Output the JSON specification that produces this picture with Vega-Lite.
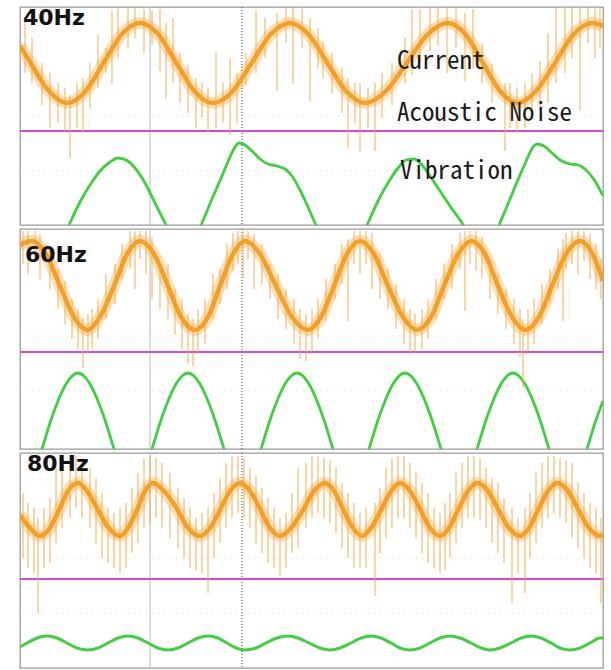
{
  "$schema": "https://vega.github.io/schema/vega-lite/v6.json",
  "background": "white",
  "padding": {"left": 14, "top": 5, "right": 2, "bottom": 2},
  "spacing": 4,
  "bounds": "flush",
  "config": {"view": {"stroke": "#9a9a9a", "strokeWidth": 1.3}},
  "datasets": {
    "grid": [{"t": 130}],
    "center": [{"t": 222}],
    "cur1": [{"t":0,"v":177},{"t":10,"v":161},{"t":28,"v":133},{"t":47,"v":120},{"t":65,"v":131},{"t":84,"v":161},{"t":102,"v":189},{"t":120,"v":200},{"t":138,"v":189},{"t":157,"v":159},{"t":175,"v":131},{"t":193,"v":120},{"t":212,"v":131},{"t":231,"v":159},{"t":251,"v":189},{"t":270,"v":200},{"t":289,"v":188},{"t":308,"v":159},{"t":326,"v":132},{"t":345,"v":120},{"t":366,"v":132},{"t":386,"v":159},{"t":407,"v":188},{"t":428,"v":200},{"t":446,"v":188},{"t":463,"v":160},{"t":480,"v":132},{"t":498,"v":120},{"t":516,"v":132},{"t":535,"v":160},{"t":553,"v":188},{"t":572,"v":200},{"t":583,"v":197}],
    "spk1": [{"t":5,"lo":150,"hi":205},{"t":12,"lo":140,"hi":185},{"t":22,"lo":118,"hi":160},{"t":30,"lo":95,"hi":150},{"t":38,"lo":100,"hi":140},{"t":45,"lo":92,"hi":135},{"t":50,"lo":65,"hi":128},{"t":57,"lo":95,"hi":140},{"t":63,"lo":90,"hi":145},{"t":70,"lo":115,"hi":160},{"t":78,"lo":135,"hi":188},{"t":86,"lo":150,"hi":175},{"t":92,"lo":140,"hi":212},{"t":98,"lo":165,"hi":215},{"t":108,"lo":175,"hi":215},{"t":115,"lo":185,"hi":216},{"t":124,"lo":170,"hi":214},{"t":132,"lo":178,"hi":212},{"t":140,"lo":152,"hi":214},{"t":146,"lo":125,"hi":200},{"t":153,"lo":140,"hi":205},{"t":160,"lo":120,"hi":170},{"t":168,"lo":110,"hi":158},{"t":176,"lo":95,"hi":145},{"t":182,"lo":105,"hi":140},{"t":188,"lo":90,"hi":135},{"t":196,"lo":95,"hi":170},{"t":203,"lo":100,"hi":140},{"t":210,"lo":88,"hi":165},{"t":217,"lo":100,"hi":150},{"t":226,"lo":138,"hi":170},{"t":236,"lo":150,"hi":212},{"t":245,"lo":165,"hi":205},{"t":257,"lo":132,"hi":210},{"t":266,"lo":180,"hi":216},{"t":273,"lo":139,"hi":216},{"t":282,"lo":175,"hi":214},{"t":290,"lo":122,"hi":205},{"t":298,"lo":155,"hi":195},{"t":303,"lo":145,"hi":182},{"t":312,"lo":130,"hi":170},{"t":322,"lo":110,"hi":155},{"t":328,"lo":75,"hi":145},{"t":335,"lo":100,"hi":140},{"t":340,"lo":72,"hi":140},{"t":348,"lo":95,"hi":135},{"t":355,"lo":72,"hi":140},{"t":362,"lo":105,"hi":150},{"t":372,"lo":118,"hi":160},{"t":385,"lo":140,"hi":185},{"t":392,"lo":148,"hi":214},{"t":400,"lo":160,"hi":214},{"t":410,"lo":172,"hi":215},{"t":418,"lo":178,"hi":216},{"t":427,"lo":150,"hi":216},{"t":436,"lo":175,"hi":215},{"t":445,"lo":142,"hi":210},{"t":453,"lo":155,"hi":214},{"t":462,"lo":140,"hi":180},{"t":472,"lo":120,"hi":160},{"t":485,"lo":72,"hi":140},{"t":490,"lo":95,"hi":140},{"t":497,"lo":90,"hi":135},{"t":505,"lo":95,"hi":140},{"t":512,"lo":105,"hi":150},{"t":520,"lo":112,"hi":162},{"t":528,"lo":120,"hi":190},{"t":536,"lo":140,"hi":215},{"t":545,"lo":150,"hi":216},{"t":552,"lo":165,"hi":216},{"t":560,"lo":112,"hi":216},{"t":568,"lo":180,"hi":216},{"t":575,"lo":165,"hi":216},{"t":580,"lo":175,"hi":214}],
    "vib1": [{"t":40,"v":-25},{"t":50,"v":0},{"t":60,"v":21},{"t":70,"v":38},{"t":80,"v":52},{"t":90,"v":61},{"t":98,"v":65},{"t":106,"v":63},{"t":115,"v":55},{"t":125,"v":40},{"t":135,"v":20},{"t":145,"v":0},{"t":155,"v":-22},{"t":172,"v":-22},{"t":182,"v":0},{"t":192,"v":24},{"t":202,"v":47},{"t":210,"v":66},{"t":215,"v":76},{"t":219,"v":80},{"t":225,"v":78},{"t":232,"v":72},{"t":240,"v":64},{"t":248,"v":59},{"t":257,"v":57},{"t":265,"v":54},{"t":272,"v":47},{"t":280,"v":33},{"t":288,"v":16},{"t":295,"v":0},{"t":305,"v":-22},{"t":338,"v":-22},{"t":348,"v":0},{"t":358,"v":22},{"t":368,"v":40},{"t":378,"v":55},{"t":386,"v":63},{"t":394,"v":64},{"t":402,"v":58},{"t":412,"v":44},{"t":422,"v":29},{"t":432,"v":14},{"t":442,"v":0},{"t":452,"v":-22},{"t":470,"v":-22},{"t":480,"v":0},{"t":490,"v":24},{"t":500,"v":48},{"t":508,"v":66},{"t":513,"v":76},{"t":517,"v":79},{"t":524,"v":77},{"t":532,"v":70},{"t":540,"v":63},{"t":550,"v":59},{"t":558,"v":58},{"t":566,"v":53},{"t":575,"v":42},{"t":583,"v":27}],
    "cur2": [{"t":0,"v":204},{"t":12,"v":208},{"t":26,"v":195},{"t":40,"v":163},{"t":54,"v":132},{"t":67,"v":119},{"t":80,"v":132},{"t":94,"v":163},{"t":107,"v":195},{"t":120,"v":208},{"t":134,"v":195},{"t":148,"v":163},{"t":161,"v":132},{"t":175,"v":119},{"t":188,"v":132},{"t":200,"v":163},{"t":213,"v":195},{"t":225,"v":208},{"t":240,"v":195},{"t":256,"v":163},{"t":272,"v":132},{"t":288,"v":119},{"t":301,"v":132},{"t":314,"v":163},{"t":327,"v":195},{"t":340,"v":208},{"t":354,"v":195},{"t":368,"v":163},{"t":383,"v":132},{"t":397,"v":119},{"t":411,"v":132},{"t":424,"v":163},{"t":438,"v":195},{"t":452,"v":208},{"t":465,"v":195},{"t":478,"v":163},{"t":492,"v":132},{"t":505,"v":119},{"t":519,"v":132},{"t":532,"v":163},{"t":546,"v":195},{"t":560,"v":208},{"t":572,"v":196},{"t":583,"v":168}],
    "spk2": [{"t":3,"lo":185,"hi":218},{"t":8,"lo":175,"hi":218},{"t":15,"lo":190,"hi":218},{"t":20,"lo":170,"hi":215},{"t":30,"lo":160,"hi":200},{"t":38,"lo":140,"hi":180},{"t":45,"lo":125,"hi":168},{"t":52,"lo":110,"hi":150},{"t":58,"lo":100,"hi":140},{"t":63,"lo":81,"hi":130},{"t":68,"lo":95,"hi":135},{"t":72,"lo":100,"hi":140},{"t":78,"lo":110,"hi":150},{"t":86,"lo":130,"hi":175},{"t":95,"lo":145,"hi":185},{"t":102,"lo":170,"hi":205},{"t":110,"lo":180,"hi":218},{"t":115,"lo":160,"hi":218},{"t":120,"lo":190,"hi":218},{"t":126,"lo":175,"hi":218},{"t":132,"lo":150,"hi":212},{"t":140,"lo":140,"hi":180},{"t":148,"lo":130,"hi":185},{"t":155,"lo":115,"hi":160},{"t":162,"lo":100,"hi":150},{"t":168,"lo":85,"hi":135},{"t":173,"lo":83,"hi":130},{"t":178,"lo":95,"hi":140},{"t":185,"lo":105,"hi":150},{"t":193,"lo":130,"hi":175},{"t":200,"lo":145,"hi":180},{"t":207,"lo":160,"hi":205},{"t":213,"lo":178,"hi":216},{"t":218,"lo":185,"hi":218},{"t":223,"lo":170,"hi":218},{"t":228,"lo":190,"hi":218},{"t":234,"lo":160,"hi":215},{"t":242,"lo":165,"hi":205},{"t":250,"lo":150,"hi":185},{"t":258,"lo":130,"hi":175},{"t":266,"lo":120,"hi":160},{"t":274,"lo":105,"hi":150},{"t":280,"lo":90,"hi":140},{"t":286,"lo":88,"hi":135},{"t":292,"lo":95,"hi":140},{"t":298,"lo":110,"hi":150},{"t":306,"lo":128,"hi":170},{"t":315,"lo":150,"hi":185},{"t":322,"lo":165,"hi":205},{"t":328,"lo":128,"hi":210},{"t":334,"lo":185,"hi":218},{"t":340,"lo":175,"hi":218},{"t":346,"lo":185,"hi":218},{"t":352,"lo":160,"hi":216},{"t":360,"lo":150,"hi":195},{"t":368,"lo":140,"hi":180},{"t":376,"lo":120,"hi":165},{"t":384,"lo":105,"hi":150},{"t":390,"lo":95,"hi":140},{"t":395,"lo":96,"hi":135},{"t":402,"lo":100,"hi":140},{"t":408,"lo":110,"hi":150},{"t":416,"lo":130,"hi":170},{"t":424,"lo":150,"hi":185},{"t":432,"lo":160,"hi":205},{"t":440,"lo":180,"hi":216},{"t":445,"lo":138,"hi":218},{"t":450,"lo":185,"hi":218},{"t":456,"lo":178,"hi":218},{"t":462,"lo":170,"hi":212},{"t":470,"lo":150,"hi":190},{"t":478,"lo":135,"hi":175},{"t":486,"lo":120,"hi":160},{"t":494,"lo":105,"hi":150},{"t":500,"lo":92,"hi":140},{"t":503,"lo":61,"hi":130},{"t":508,"lo":95,"hi":140},{"t":514,"lo":105,"hi":150},{"t":522,"lo":125,"hi":165},{"t":530,"lo":145,"hi":180},{"t":538,"lo":160,"hi":200},{"t":543,"lo":128,"hi":210},{"t":546,"lo":180,"hi":216},{"t":552,"lo":185,"hi":218},{"t":558,"lo":175,"hi":218},{"t":564,"lo":188,"hi":218},{"t":570,"lo":170,"hi":215},{"t":576,"lo":160,"hi":205},{"t":581,"lo":150,"hi":190}],
    "vib2": [{"t":14,"v":-24},{"t":22,"v":0},{"t":30,"v":26},{"t":38,"v":48},{"t":46,"v":65},{"t":52,"v":73},{"t":58,"v":76},{"t":64,"v":73},{"t":70,"v":65},{"t":78,"v":48},{"t":86,"v":26},{"t":94,"v":0},{"t":102,"v":-24},{"t":124,"v":-24},{"t":132,"v":0},{"t":140,"v":26},{"t":148,"v":48},{"t":156,"v":65},{"t":162,"v":73},{"t":168,"v":76},{"t":174,"v":73},{"t":180,"v":65},{"t":188,"v":48},{"t":196,"v":26},{"t":204,"v":0},{"t":212,"v":-24},{"t":233,"v":-24},{"t":241,"v":0},{"t":249,"v":26},{"t":257,"v":48},{"t":265,"v":65},{"t":271,"v":73},{"t":277,"v":76},{"t":283,"v":73},{"t":289,"v":65},{"t":297,"v":48},{"t":305,"v":26},{"t":313,"v":0},{"t":321,"v":-24},{"t":341,"v":-24},{"t":349,"v":0},{"t":357,"v":26},{"t":365,"v":48},{"t":373,"v":65},{"t":379,"v":73},{"t":385,"v":76},{"t":391,"v":73},{"t":397,"v":65},{"t":405,"v":48},{"t":413,"v":26},{"t":421,"v":0},{"t":429,"v":-24},{"t":449,"v":-24},{"t":457,"v":0},{"t":465,"v":26},{"t":473,"v":48},{"t":481,"v":65},{"t":487,"v":73},{"t":493,"v":76},{"t":499,"v":73},{"t":505,"v":65},{"t":513,"v":48},{"t":521,"v":26},{"t":529,"v":0},{"t":537,"v":-24},{"t":559,"v":-24},{"t":567,"v":0},{"t":575,"v":26},{"t":583,"v":48}],
    "cur3": [{"t":0,"v":153},{"t":10,"v":140},{"t":20,"v":132},{"t":30,"v":140},{"t":39,"v":158},{"t":48,"v":177},{"t":58,"v":185},{"t":67,"v":177},{"t":77,"v":160},{"t":88,"v":141},{"t":100,"v":132},{"t":108,"v":140},{"t":117,"v":158},{"t":125,"v":177},{"t":133,"v":185},{"t":144,"v":177},{"t":157,"v":159},{"t":168,"v":140},{"t":180,"v":132},{"t":190,"v":140},{"t":200,"v":158},{"t":210,"v":177},{"t":220,"v":185},{"t":230,"v":177},{"t":240,"v":159},{"t":250,"v":140},{"t":260,"v":132},{"t":271,"v":140},{"t":283,"v":158},{"t":294,"v":177},{"t":305,"v":185},{"t":314,"v":177},{"t":323,"v":159},{"t":333,"v":140},{"t":342,"v":132},{"t":351,"v":140},{"t":361,"v":158},{"t":371,"v":177},{"t":380,"v":185},{"t":390,"v":177},{"t":400,"v":159},{"t":410,"v":140},{"t":420,"v":132},{"t":429,"v":140},{"t":438,"v":158},{"t":448,"v":177},{"t":457,"v":185},{"t":468,"v":177},{"t":478,"v":159},{"t":489,"v":140},{"t":500,"v":132},{"t":509,"v":140},{"t":518,"v":158},{"t":528,"v":177},{"t":537,"v":185},{"t":548,"v":177},{"t":558,"v":159},{"t":569,"v":140},{"t":580,"v":132},{"t":583,"v":133}],
    "spk3": [{"t":3,"lo":110,"hi":175},{"t":8,"lo":100,"hi":165},{"t":14,"lo":95,"hi":160},{"t":18,"lo":55,"hi":150},{"t":24,"lo":100,"hi":160},{"t":30,"lo":105,"hi":170},{"t":36,"lo":125,"hi":200},{"t":42,"lo":140,"hi":205},{"t":50,"lo":150,"hi":210},{"t":56,"lo":160,"hi":212},{"t":62,"lo":150,"hi":208},{"t":70,"lo":140,"hi":200},{"t":76,"lo":125,"hi":190},{"t":82,"lo":110,"hi":175},{"t":88,"lo":105,"hi":160},{"t":94,"lo":100,"hi":155},{"t":100,"lo":95,"hi":160},{"t":106,"lo":100,"hi":165},{"t":112,"lo":115,"hi":180},{"t":118,"lo":125,"hi":195},{"t":124,"lo":140,"hi":210},{"t":130,"lo":145,"hi":212},{"t":136,"lo":150,"hi":210},{"t":142,"lo":140,"hi":205},{"t":150,"lo":130,"hi":195},{"t":158,"lo":120,"hi":180},{"t":164,"lo":110,"hi":170},{"t":170,"lo":100,"hi":160},{"t":176,"lo":98,"hi":150},{"t":182,"lo":95,"hi":155},{"t":188,"lo":75,"hi":160},{"t":194,"lo":110,"hi":175},{"t":200,"lo":125,"hi":190},{"t":206,"lo":140,"hi":205},{"t":212,"lo":150,"hi":212},{"t":218,"lo":155,"hi":212},{"t":224,"lo":150,"hi":210},{"t":230,"lo":140,"hi":200},{"t":236,"lo":125,"hi":192},{"t":242,"lo":115,"hi":180},{"t":248,"lo":105,"hi":170},{"t":254,"lo":100,"hi":160},{"t":260,"lo":92,"hi":150},{"t":266,"lo":100,"hi":155},{"t":272,"lo":115,"hi":175},{"t":278,"lo":120,"hi":200},{"t":286,"lo":140,"hi":205},{"t":292,"lo":150,"hi":212},{"t":298,"lo":155,"hi":212},{"t":304,"lo":150,"hi":210},{"t":310,"lo":145,"hi":208},{"t":316,"lo":135,"hi":200},{"t":322,"lo":120,"hi":185},{"t":328,"lo":110,"hi":175},{"t":334,"lo":100,"hi":165},{"t":340,"lo":100,"hi":155},{"t":346,"lo":100,"hi":160},{"t":355,"lo":72,"hi":165},{"t":360,"lo":115,"hi":180},{"t":366,"lo":130,"hi":200},{"t":372,"lo":140,"hi":210},{"t":378,"lo":150,"hi":212},{"t":384,"lo":150,"hi":212},{"t":390,"lo":140,"hi":205},{"t":396,"lo":130,"hi":195},{"t":402,"lo":115,"hi":185},{"t":408,"lo":105,"hi":175},{"t":414,"lo":100,"hi":160},{"t":420,"lo":95,"hi":155},{"t":425,"lo":98,"hi":165},{"t":430,"lo":110,"hi":175},{"t":436,"lo":125,"hi":195},{"t":442,"lo":140,"hi":205},{"t":448,"lo":150,"hi":212},{"t":454,"lo":150,"hi":212},{"t":460,"lo":148,"hi":210},{"t":466,"lo":140,"hi":200},{"t":472,"lo":125,"hi":190},{"t":478,"lo":115,"hi":185},{"t":484,"lo":105,"hi":170},{"t":492,"lo":65,"hi":160},{"t":498,"lo":95,"hi":150},{"t":505,"lo":75,"hi":160},{"t":510,"lo":110,"hi":175},{"t":516,"lo":125,"hi":195},{"t":522,"lo":140,"hi":205},{"t":528,"lo":150,"hi":212},{"t":534,"lo":155,"hi":212},{"t":540,"lo":150,"hi":210},{"t":546,"lo":145,"hi":208},{"t":552,"lo":130,"hi":205},{"t":558,"lo":120,"hi":185},{"t":564,"lo":110,"hi":175},{"t":570,"lo":100,"hi":165},{"t":576,"lo":95,"hi":160},{"t":581,"lo":65,"hi":150}],
    "vib3": [{"t":0,"v":21},{"t":7,"v":25},{"t":17,"v":30},{"t":27,"v":32},{"t":37,"v":30},{"t":47,"v":25},{"t":57,"v":20},{"t":68,"v":18},{"t":78,"v":20},{"t":88,"v":25},{"t":98,"v":30},{"t":108,"v":32},{"t":118,"v":30},{"t":128,"v":25},{"t":138,"v":20},{"t":148,"v":18},{"t":158,"v":20},{"t":168,"v":25},{"t":178,"v":30},{"t":188,"v":32},{"t":198,"v":30},{"t":207,"v":25},{"t":216,"v":20},{"t":225,"v":18},{"t":236,"v":20},{"t":246,"v":25},{"t":257,"v":30},{"t":268,"v":32},{"t":278,"v":30},{"t":289,"v":25},{"t":300,"v":20},{"t":310,"v":18},{"t":320,"v":20},{"t":331,"v":25},{"t":341,"v":30},{"t":352,"v":32},{"t":361,"v":30},{"t":371,"v":25},{"t":380,"v":20},{"t":390,"v":18},{"t":400,"v":20},{"t":410,"v":25},{"t":420,"v":30},{"t":430,"v":32},{"t":440,"v":30},{"t":451,"v":25},{"t":461,"v":20},{"t":470,"v":18},{"t":480,"v":20},{"t":491,"v":25},{"t":501,"v":30},{"t":512,"v":32},{"t":521,"v":30},{"t":531,"v":25},{"t":540,"v":20},{"t":550,"v":18},{"t":560,"v":20},{"t":570,"v":25},{"t":580,"v":30},{"t":583,"v":30}]
  },
  "vconcat": [
    {
      "width": 583, "height": 218,
      "layer": [
        {"data": {"name": "grid"}, "mark": {"type": "rule", "color": "#b8b8b8", "strokeWidth": 1}, "encoding": {"x": {"field": "t", "type": "quantitative", "scale": {"domain": [0, 583], "nice": false, "zero": false}, "axis": null}}},
        {"data": {"name": "center"}, "mark": {"type": "rule", "color": "#606060", "strokeWidth": 1.2, "strokeDash": [1, 2]}, "encoding": {"x": {"field": "t", "type": "quantitative", "axis": null}}},
        {"data": {"values": [{"v": 107}, {"v": 52}]}, "mark": {"type": "rule", "color": "#d8d8d8", "strokeWidth": 1, "strokeDash": [1, 5]}, "encoding": {"y": {"field": "v", "type": "quantitative", "scale": {"domain": [-2, 216], "nice": false, "zero": false}, "axis": null}}},
        {"data": {"name": "vib1"}, "mark": {"type": "line", "color": "#3fd03f", "strokeWidth": 2.8, "interpolate": "monotone", "clip": true}, "encoding": {"x": {"field": "t", "type": "quantitative", "axis": null}, "y": {"field": "v", "type": "quantitative", "axis": null}}},
        {"data": {"values": [{"t": 0, "v": 92}, {"t": 583, "v": 92}]}, "mark": {"type": "line", "color": "#d54ad5", "strokeWidth": 2.2}, "encoding": {"x": {"field": "t", "type": "quantitative", "axis": null}, "y": {"field": "v", "type": "quantitative", "axis": null}}},
        {"data": {"name": "cur1"}, "mark": {"type": "line", "color": "#f9b250", "strokeWidth": 12, "opacity": 0.42, "interpolate": "monotone", "clip": true}, "encoding": {"x": {"field": "t", "type": "quantitative", "axis": null}, "y": {"field": "v", "type": "quantitative", "axis": null}}},
        {"data": {"name": "spk1"}, "mark": {"type": "rule", "color": "#f5a742", "strokeWidth": 1.1, "opacity": 0.85, "clip": true}, "encoding": {"x": {"field": "t", "type": "quantitative", "axis": null}, "y": {"field": "lo", "type": "quantitative", "axis": null}, "y2": {"field": "hi"}}},
        {"data": {"name": "cur1"}, "mark": {"type": "line", "color": "#f39c1f", "strokeWidth": 4.5, "opacity": 0.95, "interpolate": "monotone", "clip": true}, "encoding": {"x": {"field": "t", "type": "quantitative", "axis": null}, "y": {"field": "v", "type": "quantitative", "axis": null}}},
        {"data": {"values": [{"t": 3, "v": 215, "label": "40Hz"}]}, "mark": {"type": "text", "align": "left", "baseline": "top", "font": "DejaVu Sans", "fontWeight": "bold", "fontSize": 22, "color": "#111111"}, "encoding": {"x": {"field": "t", "type": "quantitative", "axis": null}, "y": {"field": "v", "type": "quantitative", "axis": null}, "text": {"field": "label"}}},
        {"data": {"values": [{"t": 377, "v": 154, "label": "Current"}, {"t": 377, "v": 102, "label": "Acoustic Noise"}, {"t": 380, "v": 44, "label": "Vibration"}]}, "mark": {"type": "text", "align": "left", "baseline": "alphabetic", "font": "Noto Sans Mono CJK JP, DejaVu Sans Mono", "fontSize": 25, "color": "#1a1a1a"}, "encoding": {"x": {"field": "t", "type": "quantitative", "axis": null}, "y": {"field": "v", "type": "quantitative", "axis": null}, "text": {"field": "label"}}}
      ]
    },
    {
      "width": 583, "height": 220,
      "layer": [
        {"data": {"name": "grid"}, "mark": {"type": "rule", "color": "#b8b8b8", "strokeWidth": 1}, "encoding": {"x": {"field": "t", "type": "quantitative", "scale": {"domain": [0, 583], "nice": false, "zero": false}, "axis": null}}},
        {"data": {"name": "center"}, "mark": {"type": "rule", "color": "#606060", "strokeWidth": 1.2, "strokeDash": [1, 2]}, "encoding": {"x": {"field": "t", "type": "quantitative", "axis": null}}},
        {"data": {"values": [{"v": 113}, {"v": 58}]}, "mark": {"type": "rule", "color": "#d8d8d8", "strokeWidth": 1, "strokeDash": [1, 5]}, "encoding": {"y": {"field": "v", "type": "quantitative", "scale": {"domain": [0, 220], "nice": false, "zero": false}, "axis": null}}},
        {"data": {"name": "vib2"}, "mark": {"type": "line", "color": "#3fd03f", "strokeWidth": 2.8, "interpolate": "monotone", "clip": true}, "encoding": {"x": {"field": "t", "type": "quantitative", "axis": null}, "y": {"field": "v", "type": "quantitative", "axis": null}}},
        {"data": {"values": [{"t": 0, "v": 97}, {"t": 583, "v": 97}]}, "mark": {"type": "line", "color": "#d54ad5", "strokeWidth": 2.2}, "encoding": {"x": {"field": "t", "type": "quantitative", "axis": null}, "y": {"field": "v", "type": "quantitative", "axis": null}}},
        {"data": {"name": "cur2"}, "mark": {"type": "line", "color": "#f9b250", "strokeWidth": 12, "opacity": 0.42, "interpolate": "monotone", "clip": true}, "encoding": {"x": {"field": "t", "type": "quantitative", "axis": null}, "y": {"field": "v", "type": "quantitative", "axis": null}}},
        {"data": {"name": "spk2"}, "mark": {"type": "rule", "color": "#f5a742", "strokeWidth": 1.1, "opacity": 0.85, "clip": true}, "encoding": {"x": {"field": "t", "type": "quantitative", "axis": null}, "y": {"field": "lo", "type": "quantitative", "axis": null}, "y2": {"field": "hi"}}},
        {"data": {"name": "cur2"}, "mark": {"type": "line", "color": "#f39c1f", "strokeWidth": 4.5, "opacity": 0.95, "interpolate": "monotone", "clip": true}, "encoding": {"x": {"field": "t", "type": "quantitative", "axis": null}, "y": {"field": "v", "type": "quantitative", "axis": null}}},
        {"data": {"values": [{"t": 5, "v": 204, "label": "60Hz"}]}, "mark": {"type": "text", "align": "left", "baseline": "top", "font": "DejaVu Sans", "fontWeight": "bold", "fontSize": 22, "color": "#111111"}, "encoding": {"x": {"field": "t", "type": "quantitative", "axis": null}, "y": {"field": "v", "type": "quantitative", "axis": null}, "text": {"field": "label"}}}
      ]
    },
    {
      "width": 583, "height": 215,
      "layer": [
        {"data": {"name": "grid"}, "mark": {"type": "rule", "color": "#b8b8b8", "strokeWidth": 1}, "encoding": {"x": {"field": "t", "type": "quantitative", "scale": {"domain": [0, 583], "nice": false, "zero": false}, "axis": null}}},
        {"data": {"name": "center"}, "mark": {"type": "rule", "color": "#606060", "strokeWidth": 1.2, "strokeDash": [1, 2]}, "encoding": {"x": {"field": "t", "type": "quantitative", "axis": null}}},
        {"data": {"values": [{"v": 110}, {"v": 55}]}, "mark": {"type": "rule", "color": "#d8d8d8", "strokeWidth": 1, "strokeDash": [1, 5]}, "encoding": {"y": {"field": "v", "type": "quantitative", "scale": {"domain": [0, 215], "nice": false, "zero": false}, "axis": null}}},
        {"data": {"name": "vib3"}, "mark": {"type": "line", "color": "#3fd03f", "strokeWidth": 3, "interpolate": "monotone", "clip": true}, "encoding": {"x": {"field": "t", "type": "quantitative", "axis": null}, "y": {"field": "v", "type": "quantitative", "axis": null}}},
        {"data": {"values": [{"t": 0, "v": 89}, {"t": 583, "v": 89}]}, "mark": {"type": "line", "color": "#d54ad5", "strokeWidth": 2.2}, "encoding": {"x": {"field": "t", "type": "quantitative", "axis": null}, "y": {"field": "v", "type": "quantitative", "axis": null}}},
        {"data": {"name": "cur3"}, "mark": {"type": "line", "color": "#f9b250", "strokeWidth": 12, "opacity": 0.42, "interpolate": "monotone", "clip": true}, "encoding": {"x": {"field": "t", "type": "quantitative", "axis": null}, "y": {"field": "v", "type": "quantitative", "axis": null}}},
        {"data": {"name": "spk3"}, "mark": {"type": "rule", "color": "#f5a742", "strokeWidth": 1.1, "opacity": 0.85, "clip": true}, "encoding": {"x": {"field": "t", "type": "quantitative", "axis": null}, "y": {"field": "lo", "type": "quantitative", "axis": null}, "y2": {"field": "hi"}}},
        {"data": {"name": "cur3"}, "mark": {"type": "line", "color": "#f39c1f", "strokeWidth": 4.5, "opacity": 0.95, "interpolate": "monotone", "clip": true}, "encoding": {"x": {"field": "t", "type": "quantitative", "axis": null}, "y": {"field": "v", "type": "quantitative", "axis": null}}},
        {"data": {"values": [{"t": 7, "v": 214, "label": "80Hz"}]}, "mark": {"type": "text", "align": "left", "baseline": "top", "font": "DejaVu Sans", "fontWeight": "bold", "fontSize": 22, "color": "#111111"}, "encoding": {"x": {"field": "t", "type": "quantitative", "axis": null}, "y": {"field": "v", "type": "quantitative", "axis": null}, "text": {"field": "label"}}}
      ]
    }
  ]
}
